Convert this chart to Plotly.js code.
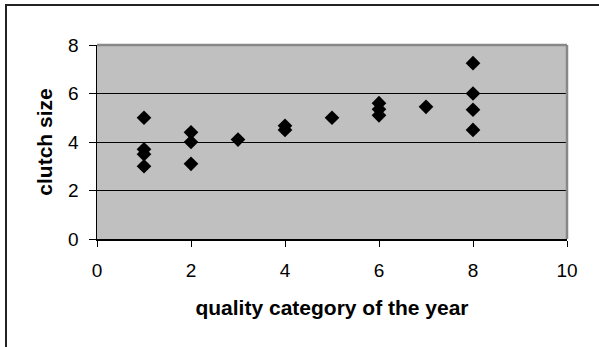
<!DOCTYPE html>
<html>
<head>
<meta charset="utf-8">
<script src="https://cdn.plot.ly/plotly-3.0.1.min.js"></script>
<style>
  html, body { margin: 0; padding: 0; background: #fff; }
  #wrap { position: relative; width: 599px; height: 347px; overflow: hidden; }
  #chart { position: absolute; left: 0; top: 0; width: 599px; height: 347px; }
  #frame {
    position: absolute; left: 5px; top: 4px; width: 620px; height: 380px;
    border-left: 2px solid #222; border-top: 2px solid #222;
    pointer-events: none;
  }
</style>
</head>
<body>
<div id="wrap">
  <div id="chart"></div>
  <div id="frame"></div>
</div>
<script>
// Quality category of each year and the clutch size recorded for it
const quality = [1, 1, 1, 1, 2, 2, 2, 3, 4, 4, 5, 6, 6, 6, 7, 8, 8, 8, 8];
const clutchSize = [5.0, 3.7, 3.5, 3.0, 4.4, 4.0, 3.1, 4.1, 4.67, 4.5, 5.0, 5.6, 5.35, 5.1, 5.45, 7.25, 6.0, 5.33, 4.5];

const xTicks = [0, 2, 4, 6, 8, 10];
const yTicks = [0, 2, 4, 6, 8];

const font = '"Liberation Sans", Arial, sans-serif';

const trace = {
  type: 'scatter',
  mode: 'markers',
  x: quality,
  y: clutchSize,
  marker: { symbol: 'diamond', size: 11.3, color: '#000' },
  hoverinfo: 'skip'
};

const layout = {
  width: 599,
  height: 347,
  margin: { l: 97, r: 32, t: 45, b: 108 },
  paper_bgcolor: '#ffffff',
  plot_bgcolor: '#c0c0c0',
  showlegend: false,
  font: { family: font, color: '#000', size: 19 },
  xaxis: {
    range: [0, 10],
    tickvals: xTicks,
    ticktext: xTicks.map(String),
    ticks: 'outside',
    ticklen: 6,
    tickwidth: 1,
    tickcolor: '#000',
    ticklabelstandoff: 8,
    showline: true,
    linecolor: '#000',
    linewidth: 1.5,
    showgrid: false,
    zeroline: false,
    tickfont: { family: font, size: 19, color: '#000' },
    title: { text: 'quality category of the year', font: { family: font, size: 21, color: '#000', weight: 'bold' }, standoff: 20 }
  },
  yaxis: {
    range: [0, 8],
    tickvals: yTicks,
    ticktext: yTicks.map(String),
    ticks: 'outside',
    ticklen: 7,
    tickwidth: 1,
    tickcolor: '#000',
    ticklabelstandoff: 6,
    showline: true,
    linecolor: '#000',
    linewidth: 1.5,
    showgrid: true,
    gridcolor: '#000',
    gridwidth: 1,
    zeroline: false,
    tickfont: { family: font, size: 19, color: '#000' },
    title: { text: 'clutch size', font: { family: font, size: 21, color: '#000', weight: 'bold' }, standoff: 10 }
  },
  shapes: [
    // grey frame on the top and right edges of the plotting area
    { type: 'line', xref: 'paper', yref: 'paper', x0: 0, x1: 1, y0: 1, y1: 1, line: { color: '#888', width: 2.5 }, layer: 'above' },
    { type: 'line', xref: 'paper', yref: 'paper', x0: 1, x1: 1, y0: 0, y1: 1, line: { color: '#888', width: 2.5 }, layer: 'above' }
  ]
};

Plotly.newPlot('chart', [trace], layout, { staticPlot: true, displayModeBar: false });
</script>
</body>
</html>
